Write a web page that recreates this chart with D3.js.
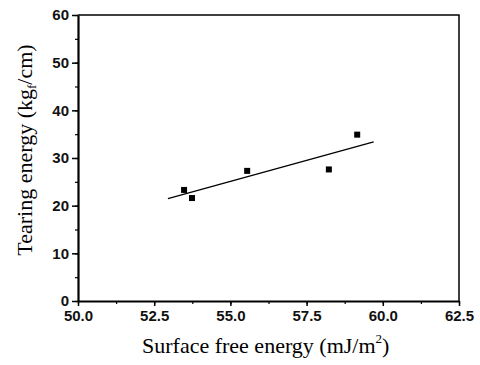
<!DOCTYPE html>
<html>
<head>
<meta charset="utf-8">
<script src="https://cdn.jsdelivr.net/npm/d3@7"></script>
<style>
  body { margin: 0; background: #fff; }
  svg { display: block; }
</style>
</head>
<body>
<div id="chart"></div>
<script>
// surface free energy (mJ/m2) vs tearing energy (kgf/cm)
var surfaceEnergy = [53.48, 53.74, 55.55, 58.23, 59.16];
var tearEnergy = [23.3, 21.6, 27.3, 27.6, 34.9];

// fitted line end points
var fitX = [52.95, 59.7];
var fitY = [21.5, 33.4];

var xTicks = [50.0, 52.5, 55.0, 57.5, 60.0, 62.5];
var yTicks = [0, 10, 20, 30, 40, 50, 60];

var width = 480, height = 365;
var margin = {top: 15, right: 21, bottom: 64, left: 78};
var w = width - margin.left - margin.right,
    h = height - margin.top - margin.bottom;

var svg = d3.select("#chart").append("svg")
  .attr("width", width)
  .attr("height", height);
var g = svg.append("g")
  .attr("transform", "translate(" + margin.left + "," + margin.top + ")");

var x = d3.scaleLinear().domain([50, 62.5]).range([0, w]);
var y = d3.scaleLinear().domain([0, 60]).range([h, 0]);

// frame top and right
g.append("path")
  .attr("d", "M0,0H" + w + "V" + h)
  .attr("fill", "none")
  .attr("stroke", "#000")
  .attr("stroke-width", 1.5);

// minor ticks
var xMinor = d3.range(0, 11).map(function(i) { return 50 + i * 1.25; });
var yMinor = d3.range(0, 13).map(function(i) { return i * 5; });

var xAxis = g.append("g")
  .attr("transform", "translate(0," + h + ")")
  .call(d3.axisBottom(x).tickValues(xMinor).tickSize(3).tickFormat(""));
xAxis.select(".domain").remove();
xAxis.selectAll("line").attr("stroke-width", 1.2);

var xAxisMajor = g.append("g")
  .attr("transform", "translate(0," + h + ")")
  .call(d3.axisBottom(x).tickValues(xTicks).tickSize(5).tickSizeOuter(0).tickPadding(4)
    .tickFormat(d3.format(".1f")));
xAxisMajor.select(".domain").attr("stroke-width", 2.2);
xAxisMajor.selectAll("line").attr("stroke-width", 1.5);
xAxisMajor.selectAll("text")
  .attr("font-family", "Liberation Sans, Arial, sans-serif")
  .attr("font-size", 15)
  .attr("font-weight", "bold")
  .attr("fill", "#111");

var yAxis = g.append("g")
  .call(d3.axisLeft(y).tickValues(yMinor).tickSize(3).tickFormat(""));
yAxis.select(".domain").remove();
yAxis.selectAll("line").attr("stroke-width", 1.2);

var yAxisMajor = g.append("g")
  .call(d3.axisLeft(y).tickValues(yTicks).tickSize(6).tickSizeOuter(0).tickPadding(3)
    .tickFormat(d3.format("d")));
yAxisMajor.select(".domain").attr("stroke-width", 2.2);
yAxisMajor.selectAll("line").attr("stroke-width", 1.5);
yAxisMajor.selectAll("text")
  .attr("font-family", "Liberation Sans, Arial, sans-serif")
  .attr("font-size", 15)
  .attr("font-weight", "bold")
  .attr("fill", "#111");

// fit line
var line = d3.line()
  .x(function(d) { return x(d[0]); })
  .y(function(d) { return y(d[1]); });
g.append("path")
  .datum(d3.zip(fitX, fitY))
  .attr("d", line)
  .attr("fill", "none")
  .attr("stroke", "#000")
  .attr("stroke-width", 1.3);

// points
var sq = 6;
g.selectAll(".pt")
  .data(d3.zip(surfaceEnergy, tearEnergy))
  .enter().append("rect")
  .attr("class", "pt")
  .attr("x", function(d) { return x(d[0]) - sq / 2; })
  .attr("y", function(d) { return y(d[1]) - sq / 2; })
  .attr("width", sq)
  .attr("height", sq)
  .attr("fill", "#000");

// axis titles
var xt = svg.append("text")
  .attr("x", 142)
  .attr("y", 353)
  .attr("font-family", "Liberation Serif, Times New Roman, serif")
  .attr("font-size", 22)
  .attr("fill", "#000");
xt.append("tspan").text("Surface free energy (mJ/m");
xt.append("tspan").attr("font-size", 13).attr("dy", -10).text("2");
xt.append("tspan").attr("dy", 10).text(")");

var yt = svg.append("text")
  .attr("transform", "translate(32,150) rotate(-90)")
  .attr("text-anchor", "middle")
  .attr("font-family", "Liberation Serif, Times New Roman, serif")
  .attr("font-size", 22)
  .attr("fill", "#000");
yt.append("tspan").text("Tearing energy (kg");
yt.append("tspan").attr("font-size", 13).attr("dy", 4).text("f");
yt.append("tspan").attr("dy", -4).text("/cm)");
</script>
</body>
</html>
